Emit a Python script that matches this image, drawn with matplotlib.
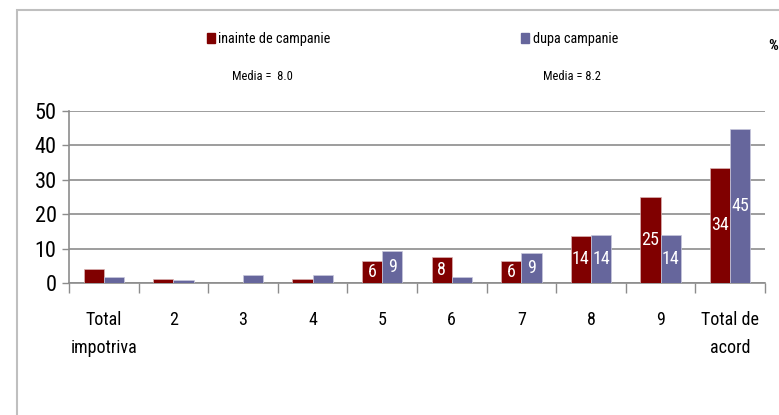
import matplotlib.pyplot as plt
import matplotlib.patches as patches
import numpy as np
from matplotlib import font_manager

# Data
categories = ["Total\nimpotriva", "2", "3", "4", "5", "6", "7", "8", "9", "Total de\nacord"]
inainte = [4.0, 1.2, 0.0, 1.2, 6.3, 7.5, 6.3, 13.7, 24.9, 33.5]
dupa = [1.7, 0.8, 2.4, 2.4, 9.3, 1.7, 8.6, 14.1, 14.1, 44.7]
labels_inainte = ["", "", "", "", "6", "8", "6", "14", "25", "34"]
labels_dupa = ["", "", "", "", "9", "", "9", "14", "14", "45"]

maroon = "#800000"
blue = "#66669c"

# Pick a narrow font if one is installed
available = {f.name for f in font_manager.fontManager.ttflist}
prefs = ["Roboto Condensed", "Open Sans Condensed", "PT Sans Narrow", "Archivo Narrow",
         "Fira Sans Condensed", "Asap Condensed", "Encode Sans Condensed", "Liberation Sans Narrow", "Carlito"]
chosen = [p for p in prefs if p in available]
font = (chosen[:1] or []) + ["DejaVu Sans"]

fig = plt.figure(figsize=(7.79, 4.15), dpi=100)
ax = fig.add_axes([0.0886, 0.318, 0.8934, 0.4145])

x = np.arange(len(categories))
w = 0.29
b1 = ax.bar(x - w / 2, inainte, w, color=maroon, edgecolor="#d9b3b3", linewidth=0.5, zorder=3)
b2 = ax.bar(x + w / 2, dupa, w, color=blue, edgecolor="#c8c8dc", linewidth=0.5, zorder=3)
ax.bar_label(b1, labels=labels_inainte, label_type="center", color="white", fontsize=13, family=font)
ax.bar_label(b2, labels=labels_dupa, label_type="center", color="white", fontsize=13, family=font)

ax.set_xlim(-0.5, len(categories) - 0.5)
ax.set_ylim(0, 50)
ax.set_yticks(range(0, 51, 10))
ax.yaxis.grid(True, color="#8c8c8c", linewidth=1.2, zorder=0)
ax.set_axisbelow(True)

ax.set_xticks(x)
ax.set_xticklabels(categories, family=font, fontsize=13, linespacing=1.75)
ax.set_xticks(np.arange(-0.5, len(categories)), minor=True)
ax.tick_params(axis="x", which="major", length=0, pad=20)
ax.tick_params(axis="x", which="minor", length=7, color="#8c8c8c", width=1)
ax.tick_params(axis="y", length=5, color="#8c8c8c", width=1, labelsize=16, pad=4)
for t in ax.get_yticklabels():
    t.set_family(font)

for s in ["top", "right"]:
    ax.spines[s].set_visible(False)
ax.spines["left"].set_color("#8c8c8c")
ax.spines["bottom"].set_color("#8c8c8c")
ax.spines["left"].set_linewidth(1.2)
ax.spines["bottom"].set_linewidth(1.2)

# Outer frame
fig.patches.append(patches.Rectangle((17 / 779, -0.1), 1.0, 1.1 - 10 / 415, transform=fig.transFigure,
                                     fill=False, edgecolor="#bfbfbf", linewidth=1.5))

# Legend and annotations
fig.patches.append(patches.Rectangle((207 / 779, 1 - 43 / 415), 8 / 779, 10 / 415,
                                     transform=fig.transFigure, color=maroon))
fig.text(218 / 779, 1 - 39 / 415, "inainte de campanie", family=font, fontsize=10.3, va="center")
fig.patches.append(patches.Rectangle((521 / 779, 1 - 43 / 415), 8 / 779, 10 / 415,
                                     transform=fig.transFigure, color=blue))
fig.text(533 / 779, 1 - 39 / 415, "dupa campanie", family=font, fontsize=10.3, va="center")
fig.text(232 / 779, 1 - 76 / 415, "Media =  8.0", family=font, fontsize=9, va="center")
fig.text(543 / 779, 1 - 76 / 415, "Media = 8.2", family=font, fontsize=9, va="center")
fig.text(768 / 779, 1 - 46 / 415, "%", family=font, fontsize=11, weight="bold", va="center")

fig.savefig("out.png", dpi=100)
